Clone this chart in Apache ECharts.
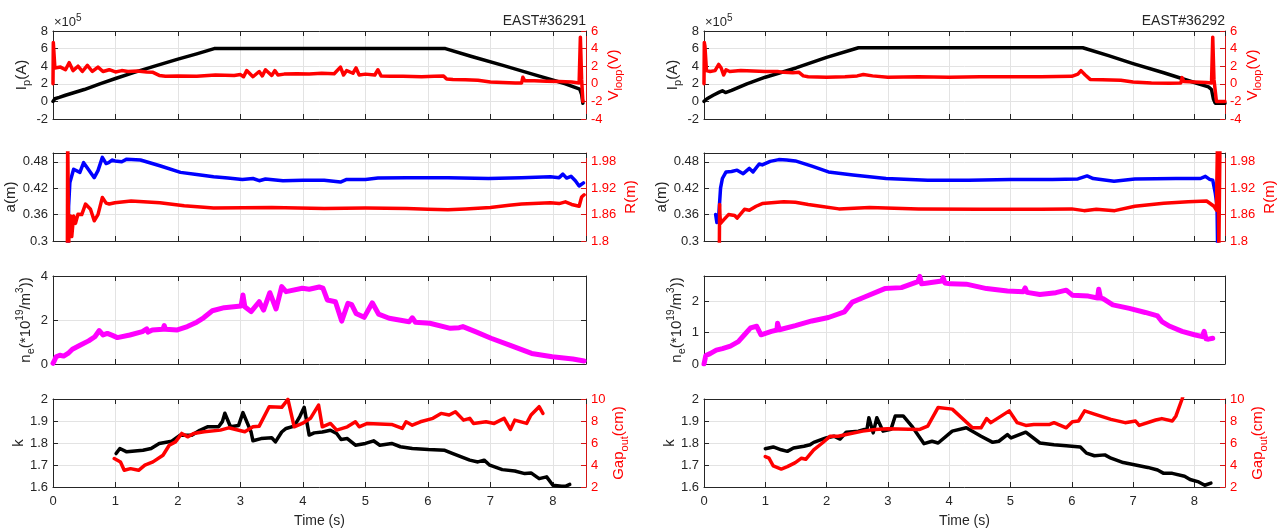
<!DOCTYPE html>
<html><head><meta charset="utf-8">
<script src="https://cdn.jsdelivr.net/npm/echarts@6/dist/echarts.min.js"></script>
<style>html,body{margin:0;padding:0;background:#fff}#c{width:1280px;height:529px}</style>
</head><body><div id="c"></div>
<script>
// ---------------- DATA (time in s) ----------------
// Shot 36291
const ip1T = [0,0.03,0.1,0.2,0.5,0.75,1.0,1.3,1.6,2.0,2.3,2.58,3.5,4.5,5.5,6.28,6.7,7.2,7.7,8.2,8.43,8.46,8.48];
const ip1V = [0.0,0.3,0.45,0.7,1.35,2.0,2.6,3.3,3.95,4.8,5.4,6.0,6.0,6.0,6.0,6.0,5.1,4.1,3.05,2.0,1.4,0.8,-0.2];
const vl1T = [0,0.005,0.015,0.03,0.06,0.12,0.2,0.26,0.32,0.4,0.47,0.55,0.63,0.72,0.8,0.9,1.0,1.1,1.2,1.35,1.5,1.6,1.7,1.8,2.0,2.3,2.6,2.9,3.0,3.05,3.1,3.2,3.3,3.35,3.4,3.5,3.55,3.6,3.7,3.9,4.1,4.3,4.5,4.6,4.65,4.7,4.8,4.85,4.9,5.0,5.15,5.2,5.25,5.4,5.6,5.9,6.1,6.25,6.3,6.4,6.6,6.8,7.0,7.2,7.4,7.5,7.52,7.55,7.7,7.9,8.1,8.3,8.42,8.44,8.46,8.48];
const vl1V = [0,4.7,4.5,1.8,1.7,1.9,1.6,2.4,1.5,2.0,1.4,2.1,1.4,1.9,1.4,1.6,1.35,1.5,1.4,1.45,1.35,1.3,0.95,0.85,0.9,0.85,1.0,0.95,1.05,0.8,1.5,0.8,1.4,0.9,1.6,0.95,1.5,1.0,1.1,1.15,1.1,1.2,1.15,1.9,1.0,1.5,1.2,1.8,1.0,1.1,1.0,1.6,0.9,0.85,0.85,0.8,0.85,0.9,0.55,0.5,0.45,0.4,0.2,0.15,0.1,0.1,0.75,0.35,0.35,0.3,0.25,0.2,0.1,5.3,0.5,-2.0];
const a1T = [0.24,0.25,0.27,0.33,0.43,0.49,0.57,0.66,0.72,0.79,0.85,0.89,0.95,0.99,1.1,1.18,1.4,1.71,2.04,2.3,2.57,2.8,3.03,3.2,3.3,3.4,3.68,4.0,4.34,4.6,4.7,5.0,5.2,5.66,6.32,6.97,7.5,7.96,8.1,8.16,8.22,8.29,8.36,8.42,8.49];
const a1V = [0.29,0.38,0.433,0.463,0.456,0.478,0.462,0.444,0.46,0.49,0.476,0.478,0.484,0.482,0.48,0.486,0.484,0.471,0.456,0.451,0.446,0.443,0.44,0.442,0.437,0.441,0.437,0.438,0.438,0.434,0.44,0.44,0.443,0.444,0.444,0.442,0.444,0.446,0.444,0.452,0.443,0.447,0.437,0.425,0.432];
const r1T = [0.23,0.235,0.245,0.25,0.26,0.28,0.3,0.33,0.36,0.4,0.46,0.52,0.6,0.66,0.72,0.79,0.85,0.9,0.99,1.25,1.71,2.1,2.57,3.5,4.34,5.0,5.66,6.0,6.32,6.6,7.0,7.3,7.5,7.96,8.1,8.2,8.3,8.42,8.46,8.5];
const r1V = [1.78,2.05,2.05,1.78,1.84,1.857,1.81,1.857,1.84,1.861,1.86,1.884,1.872,1.846,1.86,1.899,1.886,1.884,1.887,1.891,1.887,1.88,1.875,1.876,1.874,1.875,1.874,1.872,1.871,1.873,1.876,1.881,1.884,1.887,1.885,1.889,1.883,1.879,1.9,1.905];
const ne1T = [0,0.03,0.05,0.11,0.17,0.24,0.31,0.44,0.57,0.67,0.74,0.8,0.87,0.95,1.03,1.23,1.43,1.5,1.52,1.59,1.76,1.78,1.8,1.99,2.15,2.3,2.41,2.55,2.74,3.01,3.04,3.07,3.17,3.3,3.37,3.47,3.57,3.66,3.73,3.99,4.1,4.26,4.32,4.39,4.52,4.62,4.72,4.78,4.85,4.98,5.11,5.21,5.38,5.7,5.75,5.8,6.03,6.36,6.5,6.56,6.76,7.01,7.34,7.66,7.99,8.32,8.5];
const ne1V = [0.03,0.2,0.33,0.4,0.36,0.48,0.67,0.86,1.05,1.24,1.52,1.32,1.39,1.3,1.2,1.32,1.47,1.6,1.45,1.55,1.58,1.75,1.58,1.55,1.7,1.9,2.1,2.42,2.56,2.64,3.14,2.6,2.38,2.83,2.45,3.24,2.5,3.52,3.29,3.44,3.4,3.5,3.45,2.91,2.83,1.95,2.76,2.7,2.3,2.12,2.78,2.27,2.08,1.92,2.1,1.9,1.85,1.62,1.65,1.7,1.47,1.17,0.82,0.48,0.33,0.23,0.14];
const k1T = [1.01,1.07,1.18,1.31,1.44,1.57,1.7,1.9,2.03,2.22,2.35,2.48,2.65,2.71,2.75,2.84,2.97,3.04,3.17,3.2,3.33,3.5,3.56,3.66,3.73,3.86,3.95,4.02,4.1,4.18,4.31,4.44,4.54,4.61,4.71,4.84,5.0,5.13,5.23,5.42,5.56,5.75,6.01,6.27,6.4,6.67,6.8,6.9,6.99,7.19,7.39,7.55,7.65,7.78,7.9,8.0,8.14,8.2,8.27];
const k1V = [1.752,1.775,1.76,1.764,1.767,1.775,1.798,1.808,1.835,1.835,1.858,1.874,1.874,1.897,1.935,1.874,1.88,1.938,1.85,1.81,1.82,1.824,1.805,1.85,1.866,1.877,1.92,1.962,1.836,1.846,1.85,1.858,1.843,1.816,1.82,1.79,1.798,1.81,1.79,1.798,1.783,1.775,1.77,1.767,1.752,1.722,1.714,1.722,1.699,1.679,1.673,1.661,1.664,1.638,1.646,1.608,1.603,1.603,1.612];
const g1T = [0.98,1.08,1.14,1.24,1.37,1.47,1.6,1.76,1.86,1.96,2.06,2.16,2.25,2.42,2.68,2.81,3.07,3.2,3.3,3.46,3.66,3.76,3.86,3.99,4.12,4.25,4.31,4.44,4.54,4.71,4.84,4.9,5.03,5.42,5.59,5.65,5.75,5.88,6.08,6.21,6.34,6.44,6.57,6.67,6.73,6.93,7.06,7.22,7.32,7.39,7.58,7.65,7.78,7.84];
const g1V = [4.59,4.28,3.52,3.67,3.52,3.98,4.28,4.89,5.8,6.1,6.87,6.56,6.87,7.02,7.17,7.38,7.02,7.47,7.53,9.3,9.24,9.97,7.47,7.78,8.24,9.45,7.47,7.78,7.17,7.47,7.93,7.47,7.78,7.69,7.32,7.93,7.62,7.93,8.24,8.69,8.54,8.84,8.08,8.24,7.78,7.93,7.78,8.24,7.23,8.08,7.78,8.54,9.3,8.69];
// Shot 36292
const ip2T = [0,0.05,0.15,0.25,0.3,0.35,0.45,0.7,1.0,1.5,2.0,2.52,4.0,6.18,6.6,7.0,7.5,8.0,8.23,8.28,8.31,8.34,8.5];
const ip2V = [0,0.3,0.7,1.05,1.2,1.0,1.25,2.0,2.75,3.8,5.0,6.1,6.1,6.1,5.2,4.3,3.25,2.15,1.65,1.35,0.3,-0.2,-0.2];
const vl2T = [0,0.005,0.015,0.04,0.1,0.18,0.24,0.28,0.32,0.36,0.42,0.6,0.8,1.0,1.2,1.3,1.45,1.55,1.62,1.7,2.0,2.3,2.5,2.6,2.75,3.0,3.5,4.0,4.5,5.0,5.5,6.0,6.1,6.15,6.22,6.3,6.5,6.8,7.0,7.3,7.6,7.78,7.8,7.83,8.0,8.2,8.28,8.3,8.32,8.36,8.5];
const vl2V = [0,4.7,4.3,1.5,1.4,1.5,2.2,1.8,1.0,1.6,1.4,1.5,1.45,1.4,1.4,1.3,1.25,1.3,0.9,0.8,0.75,0.8,0.9,1.05,0.9,0.75,0.8,0.75,0.8,0.8,0.8,0.85,1.1,1.5,1.0,0.5,0.45,0.4,0.2,0.1,0.05,0.1,0.7,0.25,0.2,0.15,0.1,5.3,0.5,-2.0,-2.0];
const a2T = [0.19,0.21,0.24,0.27,0.3,0.36,0.45,0.54,0.64,0.74,0.8,0.9,0.95,1.08,1.22,1.35,1.49,1.76,2.03,2.43,2.97,3.65,4.32,5.0,5.68,6.1,6.25,6.35,6.69,7.03,7.7,8.1,8.18,8.25,8.3,8.34,8.37,8.38,8.5];
const a2V = [0.36,0.342,0.356,0.42,0.442,0.457,0.458,0.461,0.453,0.465,0.457,0.475,0.473,0.481,0.485,0.484,0.482,0.47,0.457,0.45,0.442,0.438,0.438,0.44,0.44,0.441,0.448,0.442,0.436,0.441,0.442,0.442,0.447,0.44,0.438,0.41,0.38,0.28,0.28];
const r2T = [0.25,0.255,0.26,0.27,0.32,0.4,0.5,0.54,0.66,0.74,0.85,0.95,1.1,1.3,1.49,1.7,1.9,2.2,2.7,3.5,4.5,5.5,6.0,6.2,6.4,6.7,7.03,7.5,7.9,8.2,8.28,8.32,8.36,8.38,8.4,8.42];
const r2V = [1.78,1.883,1.86,1.84,1.848,1.86,1.858,1.852,1.872,1.87,1.879,1.885,1.887,1.889,1.888,1.883,1.879,1.873,1.876,1.873,1.872,1.872,1.873,1.869,1.872,1.869,1.879,1.886,1.889,1.891,1.883,1.879,1.87,2.05,1.78,2.05];
const ne2T = [0,0.02,0.03,0.1,0.2,0.3,0.43,0.56,0.66,0.76,0.86,0.93,0.96,1.1,1.19,1.2,1.23,1.49,1.76,2.03,2.29,2.42,2.62,2.95,3.22,3.49,3.52,3.55,3.62,3.88,3.9,3.93,4.02,4.28,4.61,4.95,5.21,5.24,5.27,5.48,5.74,5.91,6.01,6.27,6.42,6.44,6.47,6.51,6.67,6.94,7.2,7.4,7.47,7.6,7.8,8.0,8.13,8.16,8.19,8.23,8.3];
const ne2V = [0,0.05,0.27,0.33,0.44,0.49,0.57,0.71,0.93,1.15,1.2,0.93,0.87,1.04,1.08,1.3,1.09,1.22,1.37,1.48,1.66,1.97,2.13,2.4,2.43,2.62,2.79,2.55,2.57,2.64,2.75,2.58,2.55,2.54,2.4,2.32,2.3,2.42,2.28,2.21,2.27,2.35,2.19,2.16,2.1,2.38,2.1,2.08,1.88,1.77,1.64,1.53,1.35,1.2,1.04,0.93,0.87,1.04,0.8,0.79,0.82];
const k2T = [1.0,1.13,1.26,1.36,1.46,1.63,1.73,1.79,1.99,2.12,2.22,2.32,2.52,2.66,2.69,2.76,2.82,2.92,3.05,3.12,3.25,3.39,3.59,3.72,3.82,4.05,4.28,4.52,4.71,4.81,4.95,5.01,5.25,5.48,5.71,5.91,6.14,6.24,6.37,6.54,6.64,6.84,7.04,7.24,7.4,7.5,7.64,7.84,7.93,8.07,8.17,8.27];
const k2V = [1.774,1.782,1.769,1.762,1.777,1.785,1.792,1.803,1.823,1.831,1.818,1.849,1.854,1.865,1.915,1.846,1.915,1.854,1.862,1.923,1.923,1.877,1.797,1.808,1.8,1.854,1.869,1.831,1.803,1.808,1.838,1.823,1.849,1.8,1.792,1.788,1.782,1.754,1.742,1.746,1.731,1.711,1.7,1.689,1.677,1.662,1.662,1.649,1.634,1.623,1.608,1.618];
const g2T = [1.0,1.06,1.13,1.26,1.36,1.49,1.59,1.66,1.79,1.93,2.06,2.19,2.32,2.59,2.79,2.99,3.52,3.65,3.82,4.05,4.38,4.52,4.61,4.68,4.98,5.11,5.25,5.38,5.64,5.71,5.91,6.01,6.11,6.21,6.37,6.64,6.87,7.04,7.1,7.37,7.47,7.64,7.7,7.8,7.86];
const g2V = [4.77,4.62,3.91,3.63,3.85,4.22,4.62,4.52,5.38,6.0,6.62,6.62,6.77,7.08,7.23,7.29,7.23,7.54,9.23,9.08,7.38,7.38,8.22,7.85,8.92,7.85,7.6,7.69,7.69,7.85,7.38,7.94,8.0,8.92,8.62,8.15,7.85,8.0,7.6,8.09,8.22,8.0,8.46,10.0,11.0];

const xTickLabels = [0,1,2,3,4,5,6,7,8];
const shots = ['EAST#36291','EAST#36292'];

// ---------------- LAYOUT ----------------
const FONT = 'Liberation Sans, Arial, Helvetica, sans-serif';
const colLeft = [53, 704], colW = [533, 521], xMax = [8.53, 8.5];
const rowTop = [31, 153, 276, 399], rowH = 88;
const AX = '#262626', RED = '#ff0000', RAX = '#d41515', GRID = '#e3e3e3';

const zip = (t, v) => t.map((x, i) => [x, v[i]]);
const fmt = v => String(+v.toFixed(2));
const onTick = (lo, hi, step) => Math.abs((hi - lo) / step - Math.round((hi - lo) / step)) < 1e-6;

function rich(c) {
  return {
    n: {fontSize: 15, fontFamily: FONT, color: c, lineHeight: 22, verticalAlign: 'middle'},
    s: {fontSize: 11, fontFamily: FONT, color: c, lineHeight: 10, verticalAlign: 'bottom'},
    p: {fontSize: 10, fontFamily: FONT, color: c, lineHeight: 10, verticalAlign: 'top'}
  };
}

const rows = [
  {l: {min: -2, max: 8, interval: 2, name: '{n|I}{s|p}{n|(A)}', gap: 17},
   r: {min: -4, max: 6, interval: 2, name: '{n|V}{s|loop}{n|(V)}', gap: 16}},
  {l: {min: 0.3, max: 0.5, interval: 0.06, name: '{n|a(m)}', gap: 22},
   r: {min: 1.8, max: 2.0, interval: 0.06, name: '{n|R(m)}', gap: 34}},
  {l: {min: 0, max: [4, 2.8], interval: [2, 1], name: '{n|n}{s|e}{n|(*10}{p|19}{n|/m}{p|3}{n|))}', gap: 12},
   r: null},
  {l: {min: 1.6, max: 2.0, interval: 0.1, name: '{n|k}', gap: 22},
   r: {min: 2, max: 10, interval: 2, name: '{n|Gap}{s|out}{n|(cm)}', gap: 22}}
];

const grid = [], xAxis = [], yAxis = [], series = [];
for (let c = 0; c < 2; c++) {
  for (let r = 0; r < 4; r++) {
    const gi = c * 4 + r;
    grid.push({left: colLeft[c], top: rowTop[r], width: colW[c], height: rowH, containLabel: false});
    xAxis.push({
      gridIndex: gi, type: 'value', position: 'bottom', min: 0, max: xMax[c], interval: 1,
      axisLine: {show: true, onZero: false, lineStyle: {color: AX, width: 1}},
      axisTick: {show: true, inside: true, length: 5, lineStyle: {color: AX}},
      axisLabel: {show: r === 3, color: AX, fontSize: 13, fontFamily: FONT, margin: 8, showMaxLabel: false,
                  formatter: v => (xTickLabels.indexOf(v) >= 0 ? String(v) : '')},
      splitLine: {show: true, lineStyle: {color: GRID, width: 1}},
      name: r === 3 ? 'Time (s)' : '', nameLocation: 'middle', nameGap: 27,
      nameTextStyle: {color: AX, fontSize: 14, fontFamily: FONT}
    });
    xAxis.push({
      gridIndex: gi, type: 'value', position: 'top', min: 0, max: xMax[c], interval: 1,
      axisLine: {show: true, onZero: false, lineStyle: {color: AX, width: 1}},
      axisTick: {show: true, inside: true, length: 5, lineStyle: {color: AX}},
      axisLabel: {show: false}, splitLine: {show: false}
    });
    const L = rows[r].l;
    const lmax = Array.isArray(L.max) ? L.max[c] : L.max;
    const lint = Array.isArray(L.interval) ? L.interval[c] : L.interval;
    yAxis.push({
      gridIndex: gi, type: 'value', position: 'left', min: L.min, max: lmax, interval: lint,
      axisLine: {show: true, onZero: false, lineStyle: {color: AX, width: 1}},
      axisTick: {show: true, inside: true, length: 5, lineStyle: {color: AX}},
      axisLabel: {color: AX, fontSize: 13, fontFamily: FONT, margin: 5, formatter: fmt,
                  showMaxLabel: onTick(L.min, lmax, lint)},
      splitLine: {show: true, lineStyle: {color: GRID, width: 1}},
      name: L.name, nameLocation: 'middle', nameGap: L.gap, nameRotate: 90,
      nameTextStyle: {rich: rich(AX)}
    });
    const R = rows[r].r;
    if (R) {
      yAxis.push({
        gridIndex: gi, type: 'value', position: 'right', min: R.min, max: R.max, interval: R.interval,
        axisLine: {show: true, onZero: false, lineStyle: {color: RAX, width: 1}},
        axisTick: {show: true, inside: true, length: 5, lineStyle: {color: RAX}},
        axisLabel: {color: RED, fontSize: 13, fontFamily: FONT, margin: 5, formatter: fmt,
                    showMaxLabel: onTick(R.min, R.max, R.interval)},
        splitLine: {show: false},
        name: R.name, nameLocation: 'middle', nameGap: R.gap, nameRotate: 90,
        nameTextStyle: {rich: rich(RED)}
      });
    } else {
      yAxis.push({
        gridIndex: gi, type: 'value', position: 'right', min: L.min, max: lmax, interval: lint,
        axisLine: {show: true, onZero: false, lineStyle: {color: AX, width: 1}},
        axisTick: {show: true, inside: true, length: 5, lineStyle: {color: AX}},
        axisLabel: {show: false}, splitLine: {show: false}
      });
    }
  }
}

function line(gi, side, data, color, width, z) {
  series.push({
    type: 'line', xAxisIndex: gi * 2, yAxisIndex: gi * 2 + side, data: data,
    showSymbol: false, symbol: 'none', clip: true, z: z || 2,
    lineStyle: {color: color, width: width, join: 'round', cap: 'round'}, itemStyle: {color: color}
  });
}
// shot 36291 (col 0)
line(0, 0, zip(ip1T, ip1V), '#000000', 3.5);
line(0, 1, zip(vl1T, vl1V), RED, 3.5, 3);
line(1, 0, zip(a1T, a1V), '#0000ff', 3.5);
line(1, 1, zip(r1T, r1V), RED, 3.5, 3);
line(2, 0, zip(ne1T, ne1V), '#ff00ff', 5);
line(3, 0, zip(k1T, k1V), '#000000', 3.5);
line(3, 1, zip(g1T, g1V), RED, 3.5, 3);
// shot 36292 (col 1)
line(4, 0, zip(ip2T, ip2V), '#000000', 3.5);
line(4, 1, zip(vl2T, vl2V), RED, 3.5, 3);
line(5, 0, zip(a2T, a2V), '#0000ff', 3.5);
line(5, 1, zip(r2T, r2V), RED, 3.5, 3);
line(6, 0, zip(ne2T, ne2V), '#ff00ff', 5);
line(7, 0, zip(k2T, k2V), '#000000', 3.5);
line(7, 1, zip(g2T, g2V), RED, 3.5, 3);

const graphic = [];
for (let c = 0; c < 2; c++) {
  graphic.push({type: 'text', x: colLeft[c] + colW[c], y: 21,
    style: {text: shots[c], fill: AX, font: '14px ' + FONT, align: 'right', verticalAlign: 'middle'}});
  graphic.push({type: 'text', x: colLeft[c] + 1, y: 22,
    style: {text: '{a|×10}{b|5}', align: 'left', verticalAlign: 'middle',
      rich: {a: {fontSize: 13, fontFamily: FONT, fill: AX, color: AX, lineHeight: 18, verticalAlign: 'middle'},
             b: {fontSize: 10, fontFamily: FONT, fill: AX, color: AX, lineHeight: 10, verticalAlign: 'top'}}}});
}

const chart = echarts.init(document.getElementById('c'), null, {renderer: 'canvas'});
chart.setOption({animation: false, backgroundColor: '#ffffff', grid, xAxis, yAxis, series, graphic});
</script></body></html>
